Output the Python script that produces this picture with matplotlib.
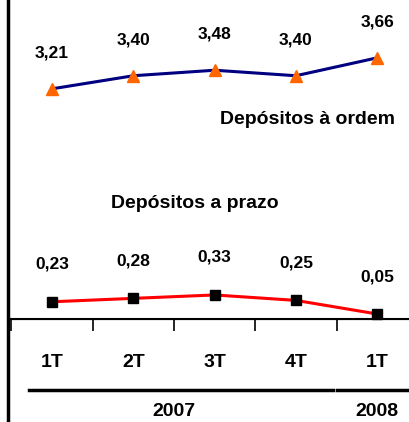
import matplotlib
matplotlib.use("Agg")
import matplotlib.pyplot as plt
from matplotlib.transforms import blended_transform_factory

plt.rcParams['font.family'] = ['Liberation Sans', 'DejaVu Sans']
plt.rcParams['font.weight'] = 'bold'

# Dados trimestrais (mil milhões)
trimestres = ['1T', '2T', '3T', '4T', '1T']
anos = ['2007', '2008']
dep_ordem = [3.21, 3.40, 3.48, 3.40, 3.66]
dep_prazo = [0.23, 0.28, 0.33, 0.25, 0.05]

W, H = 410, 422
fig = plt.figure(figsize=(W / 100, H / 100), dpi=100)

# eixo em pixels: 1a categoria centrada em x=52, passo 81.3 px, eixo x em y=319
passo = 81.3
x0 = 52 - passo / 2
ax = fig.add_axes([x0 / W, 1 - 319 / H, 5 * passo / W, 319 / H])
ax2 = ax.twinx()

xs = list(range(len(trimestres)))
ax.set_xlim(-0.5, 4.5)
ax.set_ylim(-1.6 / 68, -1.6 / 68 + 319 / 68)
ax2.set_ylim(-9 / 68.9, -9 / 68.9 + 319 / 68.9)

ax.plot(xs, dep_prazo, color='#ff0000', lw=2.2, marker='s', ms=6.5,
        mfc='black', mec='black', clip_on=False, zorder=3)
ax2.plot(xs, dep_ordem, color='#000080', lw=2.2, marker='^', ms=8.5,
         mfc='#ff6600', mec='#ff6600', clip_on=False, zorder=3)

for x, v in zip(xs, dep_prazo):
    ax.annotate(f'{v:.2f}'.replace('.', ','), (x, v), xytext=(0, 27),
                textcoords='offset points', ha='center', va='center',
                fontsize=12.5, fontweight='bold')
for x, v in zip(xs, dep_ordem):
    ax2.annotate(f'{v:.2f}'.replace('.', ','), (x, v), xytext=(0, 26),
                 textcoords='offset points', ha='center', va='center',
                 fontsize=12.5, fontweight='bold')

fig.text(308 / W, 1 - 119 / H, 'Depósitos à ordem', ha='center', va='center',
         fontsize=14, fontweight='bold')
fig.text(195 / W, 1 - 203 / H, 'Depósitos a prazo', ha='center', va='center',
         fontsize=14, fontweight='bold')

for a in (ax, ax2):
    for s in ('top', 'right', 'left'):
        a.spines[s].set_visible(False)
    a.set_yticks([])
ax.spines['bottom'].set_linewidth(1.5)

# marcas nos limites das categorias, rotulos no centro
ax.set_xticks([i - 0.5 for i in range(6)])
ax.set_xticklabels([])
ax.tick_params(axis='x', which='major', direction='out', length=8.5, width=1.2)
ax.set_xticks(xs, minor=True)
ax.set_xticklabels(trimestres, minor=True, fontsize=14, fontweight='bold')
ax.tick_params(axis='x', which='minor', length=0, pad=25)

# linhas e rotulos dos anos
tr = blended_transform_factory(ax.transData, fig.transFigure)
yl = 1 - 390 / H
ax.plot([-0.28, 3.46], [yl, yl], color='black', lw=2.5, transform=tr, clip_on=False)
ax.plot([3.51, 4.5], [yl, yl], color='black', lw=2.5, transform=tr, clip_on=False)
ax.text(1.5, 1 - 411 / H, anos[0], transform=tr, ha='center', va='center',
        fontsize=14, fontweight='bold')
ax.text(4.0, 1 - 412 / H, anos[1], transform=tr, ha='center', va='center',
        fontsize=14, fontweight='bold')

# linha vertical a esquerda
fig.add_artist(plt.Line2D([8 / W, 8 / W], [0, 1], color='black', lw=2.5,
                          transform=fig.transFigure))

fig.savefig('out.png', dpi=100)
